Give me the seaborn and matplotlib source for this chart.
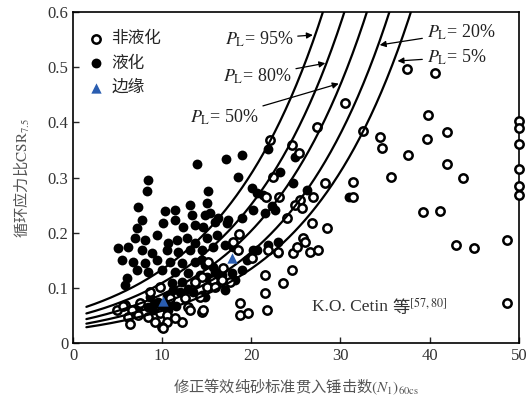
import matplotlib
matplotlib.use('Agg')
from statistics import NormalDist
import numpy as np
import pandas as pd
import seaborn as sns
from matplotlib import pyplot as plt

# liquefied sites (N1,60cs , CSR)
liq_n = [13.9, 17.15, 18.95, 18.5, 8.41, 8.3, 15.13, 20.07, 7.29, 10.31, 11.43, 13.12,
         13.34, 15.02, 15.36, 7.17, 7.74, 10.09, 11.43, 12.33, 13.68, 14.57, 15.92, 17.38,
         18.95, 6.95, 8.07, 9.42, 10.65, 11.66, 12.78, 13.68, 15.02, 16.14, 5.04, 6.17,
         7.74, 8.86, 10.54, 11.77, 13.12, 14.46, 15.7, 17.04, 5.49, 6.73, 8.07, 9.42,
         10.87, 12.22, 13.68, 14.8, 7.17, 8.41, 9.98, 11.43, 12.89, 14.24, 15.92, 6.05,
         5.83, 11.1, 12.22, 13.68, 15.13, 16.7, 17.83, 18.95, 8.63, 9.98, 10.87, 8.97,
         10.65, 17.04, 18.16, 20.63, 21.3, 21.52, 19.51, 20.18, 21.86, 22.98, 21.86, 24.89,
         23.21, 24.66, 26.23, 22.31, 22.65, 14.8, 16.26, 30.94, 17.94, 20.63, 22.98, 14.46,
         15.7, 15.02, 14.46, 17.26, 8.41, 7.29, 14.8, 20.18,
         9.5, 10.5, 11.6, 12.0, 9.1, 11.2, 12.9, 13.5, 16.0, 10.2]
liq_csr = [0.324, 0.333, 0.341, 0.301, 0.295, 0.275, 0.275, 0.281, 0.246, 0.239, 0.241, 0.250,
           0.232, 0.254, 0.236, 0.208, 0.223, 0.217, 0.223, 0.210, 0.214, 0.210, 0.219, 0.223,
           0.226, 0.190, 0.187, 0.196, 0.181, 0.187, 0.190, 0.181, 0.190, 0.196, 0.172, 0.174,
           0.168, 0.163, 0.168, 0.165, 0.168, 0.168, 0.174, 0.178, 0.150, 0.147, 0.145, 0.150,
           0.147, 0.145, 0.147, 0.141, 0.132, 0.129, 0.132, 0.129, 0.127, 0.123, 0.129, 0.118,
           0.105, 0.109, 0.111, 0.109, 0.118, 0.123, 0.127, 0.132, 0.083, 0.065, 0.072, 0.060,
           0.060, 0.096, 0.114, 0.272, 0.268, 0.236, 0.150, 0.168, 0.178, 0.183, 0.351, 0.337,
           0.310, 0.290, 0.277, 0.248, 0.241, 0.232, 0.226, 0.264, 0.174, 0.168, 0.163, 0.150,
           0.138, 0.120, 0.087, 0.217, 0.065, 0.063, 0.083, 0.241,
           0.075, 0.086, 0.068, 0.093, 0.071, 0.097, 0.098, 0.092, 0.105, 0.055]

# non-liquefied sites
non_n = [18.61, 17.94, 18.5, 20.07, 16.82, 17.6, 15.7, 15.02, 15.13, 14.46, 13.68, 14.24,
         12.56, 12.89, 14.46, 12.22, 9.75, 8.63, 10.87, 7.51, 5.83, 4.93, 6.61, 7.29,
         6.17, 8.41, 9.75, 10.54, 9.19, 10.54, 6.39, 9.98, 11.43, 18.72, 18.72, 19.62,
         5.61, 13.12, 14.57, 22.09, 22.42, 21.64, 23.09, 21.86, 21.52, 21.52, 21.75, 10.09,
         30.49, 27.35, 24.55, 25.34, 28.25, 26.91, 25.45, 24.89, 25.67, 26.79, 28.48, 23.99,
         25.78, 22.98, 24.66, 25.11, 26.01, 26.57, 27.47, 24.55, 23.54, 16.7, 15.92, 37.44,
         40.58, 39.8, 32.51, 34.42, 34.64, 39.69, 41.93, 37.56, 41.93, 35.65, 43.72, 31.39,
         31.39, 39.24, 41.14, 42.94, 44.96, 48.65, 48.65, 50, 50, 50, 50, 50, 50]
non_csr = [0.197, 0.183, 0.168, 0.154, 0.136, 0.111, 0.114, 0.101, 0.147, 0.120, 0.111, 0.083,
           0.082, 0.065, 0.056, 0.038, 0.101, 0.092, 0.082, 0.072, 0.069, 0.060, 0.060, 0.051,
           0.047, 0.047, 0.054, 0.051, 0.038, 0.038, 0.034, 0.029, 0.045, 0.072, 0.051, 0.054,
           0.067, 0.060, 0.060, 0.368, 0.301, 0.264, 0.264, 0.168, 0.123, 0.091, 0.060, 0.027,
           0.435, 0.391, 0.359, 0.344, 0.290, 0.264, 0.259, 0.250, 0.245, 0.217, 0.208, 0.226,
           0.190, 0.165, 0.163, 0.174, 0.183, 0.165, 0.168, 0.132, 0.109, 0.114, 0.101, 0.496,
           0.489, 0.413, 0.384, 0.373, 0.353, 0.370, 0.382, 0.341, 0.324, 0.301, 0.299, 0.292,
           0.264, 0.237, 0.239, 0.178, 0.172, 0.187, 0.072, 0.402, 0.389, 0.361, 0.315, 0.284,
           0.268]

# marginal sites
edge_n = [10.1, 17.8]
edge_csr = [0.076, 0.154]

# probability contours (Cetin type: CSR = exp((N - A + SIGMA*z)/C))
PL_LEVELS = [95, 80, 50, 20, 5]
A, C, SIGMA = 39.1, 12.0, 3.0
N_MIN = 1.5

xticks = [0, 10, 20, 30, 40, 50]
yticks = [0, 0.1, 0.2, 0.3, 0.4, 0.5, 0.6]
yticklabels = ['0', '0.1', '0.2', '0.3', '0.4', '0.5', '0.6']

sns.set_theme(style='ticks')
plt.rcParams['font.family'] = ['Liberation Serif', 'Noto Sans CJK SC']
plt.rcParams['mathtext.fontset'] = 'stix'

fig, ax = plt.subplots(figsize=(5.31, 4.09), dpi=100)
fig.subplots_adjust(left=0.1375, right=0.977, bottom=0.161, top=0.971)

liq = pd.DataFrame({'N': liq_n, 'CSR': liq_csr})
non = pd.DataFrame({'N': non_n, 'CSR': non_csr})
edge = pd.DataFrame({'N': edge_n, 'CSR': edge_csr})

sns.scatterplot(data=liq, x='N', y='CSR', ax=ax, marker='o', s=50, color='black',
                linewidth=0, zorder=2, label='液化')
sns.scatterplot(data=non, x='N', y='CSR', ax=ax, marker='o', s=36, facecolor='white',
                edgecolor='black', linewidth=1.8, zorder=3, clip_on=False, label='非液化')

nd = NormalDist()
grid = np.linspace(N_MIN, 42, 400)
curves = []
for pl in PL_LEVELS:
    csr = np.exp((grid - A + SIGMA * nd.inv_cdf(pl / 100)) / C)
    keep = csr <= 0.63
    curves.append(pd.DataFrame({'N': grid[keep], 'CSR': csr[keep], 'PL': pl}))
curves = pd.concat(curves)
sns.lineplot(data=curves, x='N', y='CSR', units='PL', estimator=None, sort=False,
             color='black', linewidth=1.6, ax=ax, zorder=4, legend=False)

sns.scatterplot(data=edge, x='N', y='CSR', ax=ax, marker='^', s=55, color='#2a5db0',
                linewidth=0, zorder=5, label='边缘')

ax.set_xlim(0, 50)
ax.set_ylim(0, 0.6)
ax.set_xticks(xticks)
ax.set_yticks(yticks, yticklabels)
ax.tick_params(direction='in', length=4, width=1, labelsize=12, labelcolor='#333333',
               top=False, right=False)
for sp in ax.spines.values():
    sp.set_visible(True)
    sp.set_linewidth(1.2)
    sp.set_color('black')

ax.set_xlabel(r'修正等效纯砂标准贯入锤击数$(N_1)_{60\mathrm{cs}}$', fontfamily='Noto Sans CJK SC',
              fontsize=11, color='#555555', labelpad=9)
ax.set_ylabel(r'循环应力比$\mathrm{CSR}_{7.5}$', fontfamily='Noto Sans CJK SC',
              fontsize=11, color='#555555', labelpad=11)

# legend: 非液化, 液化, 边缘
handles, labels = ax.get_legend_handles_labels()
order = [labels.index(k) for k in ['非液化', '液化', '边缘']]
ax.legend([handles[i] for i in order], [labels[i] for i in order], loc='upper left',
          bbox_to_anchor=(0.0, 0.985), frameon=False, handletextpad=0.3,
          labelspacing=0.45, borderpad=0.3, handlelength=1.2,
          prop={'family': 'Noto Sans CJK SC', 'size': 12})

# probability labels with arrows
pl_text = {95: (17.0, 0.551), 80: (16.8, 0.484), 50: (13.1, 0.409),
           20: (39.7, 0.563), 5: (39.7, 0.518)}
pl_tip = {95: (26.9, 0.558), 80: (28.3, 0.507), 50: (29.8, 0.470),
          20: (34.4, 0.540), 5: (36.4, 0.511)}
for pl in PL_LEVELS:
    ax.annotate(r'$P_{\rm L}$= %d%%' % pl, xy=pl_tip[pl], xytext=pl_text[pl],
                ha='left', va='center', fontsize=13, color='#222222', zorder=6,
                arrowprops=dict(arrowstyle='-|>', color='black', lw=0.9,
                                mutation_scale=9, shrinkA=1, shrinkB=0))

t1 = ax.text(26.8, 0.065, 'K.O. Cetin ', fontsize=12.5, color='#333333', va='center')
ax.annotate(r'等$^{[57,80]}$', xy=(1, 0.5), xycoords=t1, va='center', ha='left',
            fontsize=12.5, color='#333333', fontfamily='Noto Sans CJK SC')

fig.savefig('out.png', dpi=100)
